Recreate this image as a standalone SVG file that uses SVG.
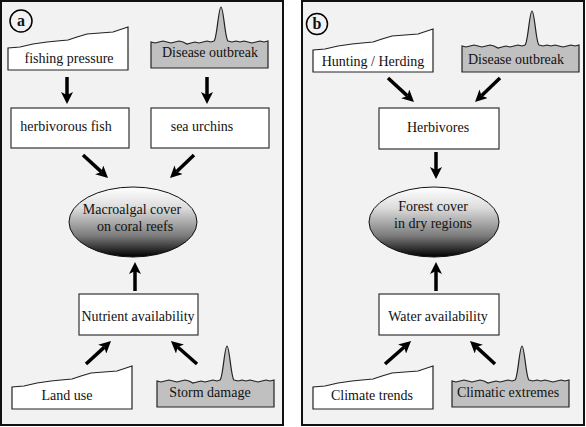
<svg xmlns="http://www.w3.org/2000/svg" width="586" height="427" viewBox="0 0 586 427">
<style>
.panel{fill:#f2f2f2;stroke:#111;stroke-width:2}
.box{fill:#fff;stroke:#333;stroke-width:1.2}
.gray{fill:#c0c0c0;stroke:#222;stroke-width:1.2}
.white{fill:#fff;stroke:#222;stroke-width:1.2}
.ell{fill:url(#eg);stroke:#111;stroke-width:1}
text{font-family:"Liberation Serif","Times New Roman",serif;font-size:14px;fill:#111;text-anchor:middle}
.lbl{font-weight:bold;font-size:16px}
.arr{stroke:#000;stroke-width:3.5;fill:none;marker-end:url(#ah)}
</style>
<defs>
<linearGradient id="eg" x1="0" y1="0" x2="0" y2="1">
<stop offset="0" stop-color="#ffffff"/>
<stop offset="0.3" stop-color="#dcdcdc"/>
<stop offset="0.7" stop-color="#7a7a7a"/>
<stop offset="1" stop-color="#000000"/>
</linearGradient>
<marker id="ah" markerUnits="userSpaceOnUse" viewBox="0 0 12 12" markerWidth="12" markerHeight="12" refX="3" refY="6" orient="auto">
<path d="M0,0 L12,6 L0,12 L3,6 Z" fill="#000"/>
</marker>
<path id="gshape" d="M0,61 L0,35 L4,36 L8,35 L12,34 L16,35 L20,36 L24,35 L28,34 L32,35 L36,37 L40,36 L44,35 L48,36 L52,35 L56,34 L60,35 L63,34 C66,32 67.5,0 70,0 C72.5,0 74,32 77,34 L81,35 L85,34 L89,35 L93,34 L97,35 L101,36 L105,35 L109,34 L113,35 L117,34 L117,61 Z"/>
<path id="wshape" d="M0,43 L0,21 L12,20 L25,17 L39,15 L49,14 L60,13 L69,10 L79,7 L92,6 L105,5 L120,0 L120,43 Z"/>
</defs>

<rect class="panel" x="1" y="1" width="282" height="424"/>
<rect class="panel" x="302" y="1" width="282" height="424"/>

<g id="label-a"><circle cx="21" cy="21" r="11" fill="none" stroke="#000" stroke-width="1.5"/><text class="lbl" x="21" y="26">a</text></g>
<g id="label-b"><circle cx="317" cy="24" r="10.5" fill="none" stroke="#000" stroke-width="1.5"/><text class="lbl" x="317" y="29">b</text></g>

<g id="fishing-pressure"><use href="#wshape" class="white" transform="translate(8,27)"/><text x="69" y="63">fishing pressure</text></g>
<g id="disease-a"><use href="#gshape" class="gray" transform="translate(151,7)"/><text x="210" y="57">Disease outbreak</text></g>
<g id="herbivorous-fish"><rect class="box" x="11" y="108" width="118" height="40"/><text x="66" y="131">herbivorous fish</text></g>
<g id="sea-urchins"><rect class="box" x="151" y="108" width="118" height="40"/><text x="202" y="131">sea urchins</text></g>
<g id="macroalgal"><ellipse class="ell" cx="133" cy="222" rx="64" ry="35"/><text x="132" y="214">Macroalgal cover</text><text x="135" y="231">on coral reefs</text></g>
<g id="nutrient"><rect class="box" x="79" y="294" width="119" height="41"/><text x="138" y="321">Nutrient availability</text></g>
<g id="land-use"><use href="#wshape" class="white" transform="translate(12,366)"/><text x="67" y="400">Land use</text></g>
<g id="storm"><use href="#gshape" class="gray" transform="translate(157,346)"/><text x="210" y="397">Storm damage</text></g>

<g id="hunting"><use href="#wshape" class="white" transform="translate(313,29)"/><text x="373" y="66">Hunting / Herding</text></g>
<g id="disease-b"><use href="#gshape" class="gray" transform="translate(462,11)"/><text x="516" y="64">Disease outbreak</text></g>
<g id="herbivores"><rect class="box" x="379" y="108" width="120" height="41"/><text x="438" y="132">Herbivores</text></g>
<g id="forest"><ellipse class="ell" cx="434" cy="222" rx="65" ry="35"/><text x="433" y="211">Forest cover</text><text x="433" y="228">in dry regions</text></g>
<g id="water"><rect class="box" x="379" y="294" width="120" height="41"/><text x="438" y="321">Water availability</text></g>
<g id="climate-trends"><use href="#wshape" class="white" transform="translate(313,366)"/><text x="372" y="400">Climate trends</text></g>
<g id="climatic-extremes"><use href="#gshape" class="gray" transform="translate(452,346)"/><text x="508" y="397">Climatic extremes</text></g>

<g id="connectors">
<line class="arr" x1="67" y1="77" x2="67" y2="95"/>
<line class="arr" x1="207" y1="77" x2="207" y2="95"/>
<line class="arr" x1="83" y1="155" x2="101.4" y2="171.9"/>
<line class="arr" x1="194" y1="155" x2="176.5" y2="171.8"/>
<line class="arr" x1="135" y1="291" x2="135" y2="271"/>
<line class="arr" x1="86" y1="364" x2="104.4" y2="347.1"/>
<line class="arr" x1="197" y1="364" x2="177.7" y2="347"/>
<line class="arr" x1="388" y1="78" x2="407.4" y2="95.9"/>
<line class="arr" x1="500" y1="78" x2="481.5" y2="95.8"/>
<line class="arr" x1="436" y1="152" x2="436" y2="170"/>
<line class="arr" x1="436" y1="291" x2="436" y2="271"/>
<line class="arr" x1="385" y1="364" x2="404.3" y2="347"/>
<line class="arr" x1="495" y1="364" x2="476.6" y2="347.1"/>
</g>
</svg>
